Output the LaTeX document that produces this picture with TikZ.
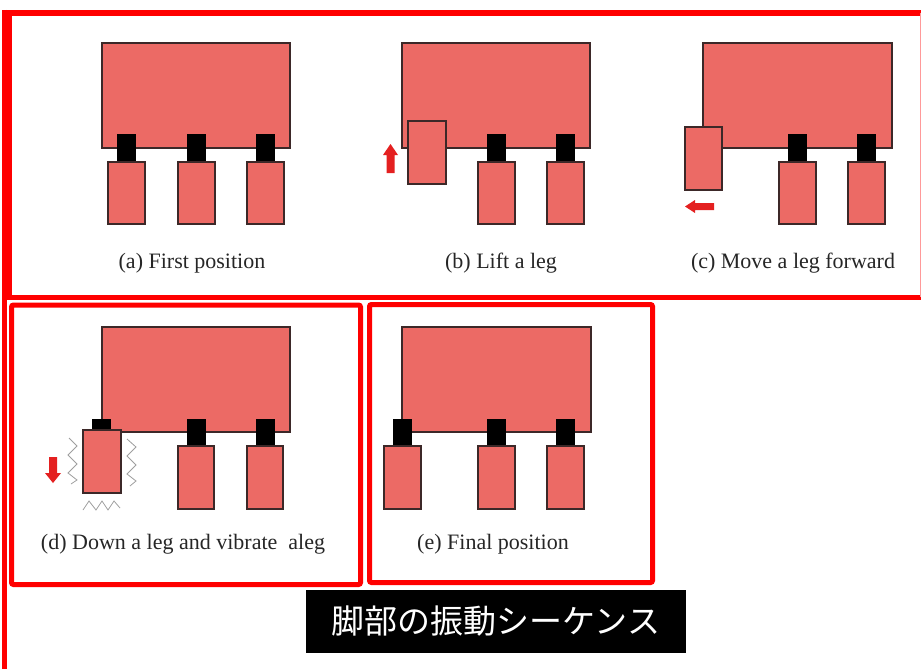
\documentclass[tikz,border=0pt]{standalone}
\usepackage{fontspec}
\setmainfont{Liberation Serif}
\newfontfamily\cjk{Noto Sans CJK JP}
\definecolor{bodyc}{RGB}{236,106,101}
\definecolor{edgec}{RGB}{60,40,40}
\definecolor{framec}{RGB}{255,0,0}
\definecolor{arrowc}{RGB}{228,32,32}
\begin{document}
\begin{tikzpicture}[x=1pt,y=-1pt,
  part/.style={fill=bodyc,draw=edgec,line width=1.1pt},
  jointbox/.style={fill=black},
  frm/.style={draw=framec,line width=5pt},
  captext/.style={font=\fontsize{22}{26}\selectfont,text=black!85,inner sep=0pt},
  blockarrow/.style={fill=arrowc},
  zig/.style={draw=gray!75,line width=0.8pt,line join=miter}]
\useasboundingbox (0,0) rectangle (921,669);
\fill[white] (0,0) rectangle (921,669);
% frames
\draw[framec,line width=5pt] (4.5,10) -- (4.5,669);
\draw[framec,line width=6pt] (2,13) -- (921,13);
\draw[framec,line width=5pt] (9.5,13) -- (9.5,297);
\draw[framec,line width=5pt] (7,297) -- (921,297);
\draw[framec!40,line width=1pt] (920,13) -- (920,297);
\draw[frm,rounded corners=2pt] (11.5,305) rectangle (360.5,584.5);
\draw[frm,rounded corners=2pt] (369.5,304.5) rectangle (652.5,582.5);
% panel a
\begin{scope}[shift={(102,43)}]
  \draw[part] (0,0) rectangle (188,105);
  \foreach \lx in {6,76,145} {\fill[jointbox] (\lx+9,91) rectangle ++(19,28);
    \draw[part] (\lx,119) rectangle ++(37,62);}
\end{scope}
% panel b
\begin{scope}[shift={(402,43)}]
  \draw[part] (0,0) rectangle (188,105);
  \foreach \lx in {76,145} {\fill[jointbox] (\lx+9,91) rectangle ++(19,28);
    \draw[part] (\lx,119) rectangle ++(37,62);}
  \draw[part] (6,78) rectangle ++(38,63);
\end{scope}
\fill[blockarrow] (390.5,144) -- (398,155) -- (394.5,155) -- (394.5,173) -- (386.5,173) -- (386.5,155) -- (383,155) -- cycle;
% panel c
\begin{scope}[shift={(703,43)}]
  \draw[part] (0,0) rectangle (189,105);
  \foreach \lx in {76,145} {\fill[jointbox] (\lx+9,91) rectangle ++(19,28);
    \draw[part] (\lx,119) rectangle ++(37,62);}
  \draw[part] (-18,84) rectangle ++(37,63);
\end{scope}
\fill[blockarrow] (685,206.5) -- (695,200) -- (695,203) -- (714,203) -- (714,210) -- (695,210) -- (695,213) -- cycle;
% panel d
\begin{scope}[shift={(102,327)}]
  \draw[part] (0,0) rectangle (188,105);
  \foreach \lx in {76,145} {\fill[jointbox] (\lx+9,92) rectangle ++(19,27);
    \draw[part] (\lx,119) rectangle ++(36,63);}
  \fill[jointbox] (-10,92) rectangle ++(19,11);
  \draw[part] (-19,103) rectangle ++(38,63);
\end{scope}
\fill[blockarrow] (53,483) -- (61,473) -- (57,473) -- (57,457) -- (49,457) -- (49,473) -- (45,473) -- cycle;
\draw[zig] (69,438) -- (77,446) -- (68,455) -- (77,464) -- (68,473) -- (77,480) -- (71,484);
\draw[zig] (127,439) -- (136,447) -- (127,456) -- (136,465) -- (127,474) -- (136,481) -- (130,486);
\draw[zig] (83,510) -- (89,501) -- (96,510) -- (102,501) -- (108,510) -- (114,501) -- (120,508);
% panel e
\begin{scope}[shift={(402,327)}]
  \draw[part] (0,0) rectangle (189,105);
  \foreach \lx in {-18,76,145} {\fill[jointbox] (\lx+9,92) rectangle ++(19,27);
    \draw[part] (\lx,119) rectangle ++(37,63);}
\end{scope}
% captions
\node[captext] (capa) at (192,263) {(a) First position};
\node[captext] (capb) at (501,263) {(b) Lift a leg};
\node[captext] (capc) at (793,263) {(c) Move a leg forward};
\node[captext] (capd) at (183,544) {(d) Down a leg and vibrate\ \ aleg};
\node[captext] (cape) at (493,544) {(e) Final position};
% title
\node[fill=black,minimum width=380pt,minimum height=63pt,inner sep=0pt,text=white,
  font=\cjk\fontsize{33}{36}\selectfont] (title) at (496,621.5) {脚部の振動シーケンス};
\end{tikzpicture}
\end{document}
